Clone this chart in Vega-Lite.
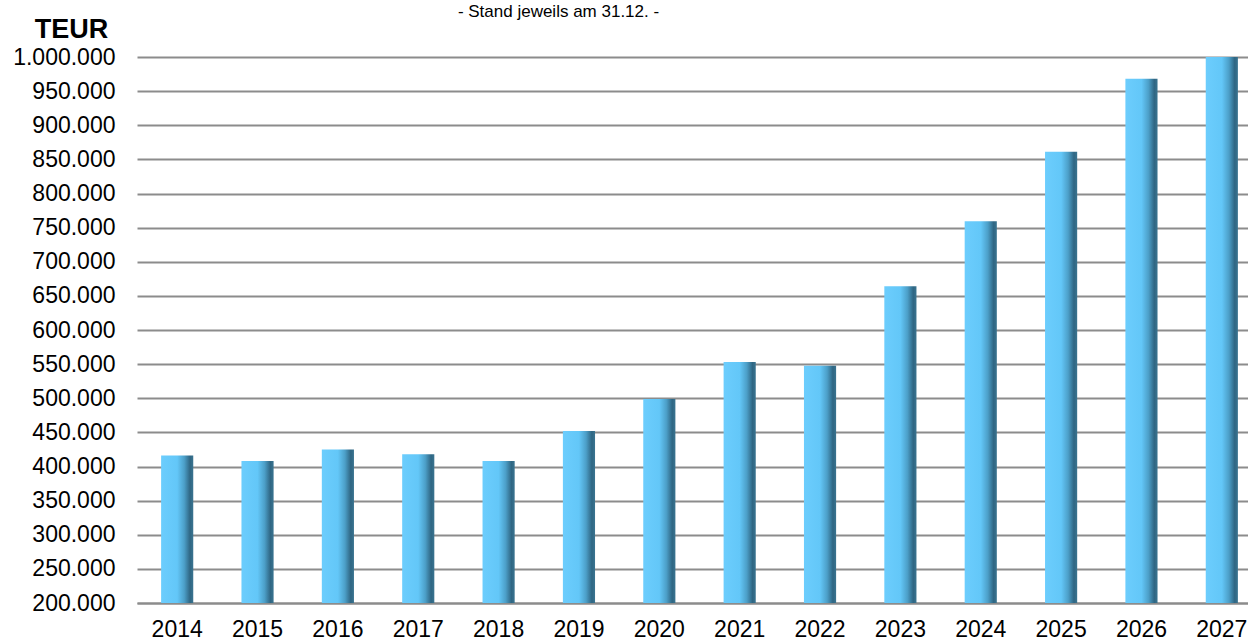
{
  "$schema": "https://vega.github.io/schema/vega-lite/v6.json",
  "autosize": {"type": "none"},
  "padding": {"left": 137, "top": 57, "right": 0, "bottom": 37},
  "width": 1111,
  "height": 546,
  "background": "white",
  "config": {
    "view": {"stroke": null},
    "locale": {"number": {"decimal": ",", "thousands": ".", "grouping": [3], "currency": ["", " €"]}},
    "font": "Liberation Sans"
  },
  "title": {
    "text": "- Stand jeweils am 31.12. -",
    "font": "Liberation Sans",
    "fontSize": 17,
    "fontWeight": "normal",
    "color": "#000000",
    "anchor": "middle",
    "frame": "group",
    "dx": -134,
    "dy": 19,
    "baseline": "alphabetic",
    "offset": 0
  },
  "data": {
    "values": [
      {"year": "2014", "value": 416000},
      {"year": "2015", "value": 408000},
      {"year": "2016", "value": 425000},
      {"year": "2017", "value": 418000},
      {"year": "2018", "value": 408000},
      {"year": "2019", "value": 452000},
      {"year": "2020", "value": 499000},
      {"year": "2021", "value": 553000},
      {"year": "2022", "value": 547500},
      {"year": "2023", "value": 664000},
      {"year": "2024", "value": 759500},
      {"year": "2025", "value": 861000},
      {"year": "2026", "value": 968000},
      {"year": "2027", "value": 1000000}
    ]
  },
  "mark": {
    "type": "bar",
    "clip": true,
    "color": {
      "gradient": "linear",
      "x1": 0, "y1": 0, "x2": 1, "y2": 0,
      "stops": [
        {"offset": 0, "color": "#6CCDFD"},
        {"offset": 0.5, "color": "#63C7F8"},
        {"offset": 0.72, "color": "#4C9FC8"},
        {"offset": 0.9, "color": "#2F6683"},
        {"offset": 1, "color": "#3A7490"}
      ]
    }
  },
  "encoding": {
    "x": {
      "field": "year",
      "type": "nominal",
      "sort": null,
      "scale": {"paddingInner": 0.6, "paddingOuter": 0.3, "range": [0, 1125]},
      "axis": {
        "title": null,
        "labelAngle": 0,
        "labelFontSize": 23,
        "labelColor": "#000000",
        "labelPadding": 15,
        "ticks": false,
        "domain": true,
        "domainColor": "#8c8c8c",
        "domainWidth": 2,
        "grid": false
      }
    },
    "y": {
      "field": "value",
      "type": "quantitative",
      "scale": {"domain": [200000, 1000000], "nice": false, "zero": false},
      "axis": {
        "title": "TEUR",
        "titleAngle": 0,
        "titleAlign": "center",
        "titleBaseline": "alphabetic",
        "titleX": -66,
        "titleY": -20,
        "titleFontSize": 27,
        "titleFontWeight": "bold",
        "titleColor": "#000000",
        "values": [200000, 250000, 300000, 350000, 400000, 450000, 500000, 550000, 600000, 650000, 700000, 750000, 800000, 850000, 900000, 950000, 1000000],
        "format": ",d",
        "labelFontSize": 23,
        "labelColor": "#000000",
        "labelPadding": 22,
        "ticks": false,
        "domain": false,
        "grid": true,
        "gridColor": "#8c8c8c",
        "gridWidth": 2
      }
    }
  }
}
